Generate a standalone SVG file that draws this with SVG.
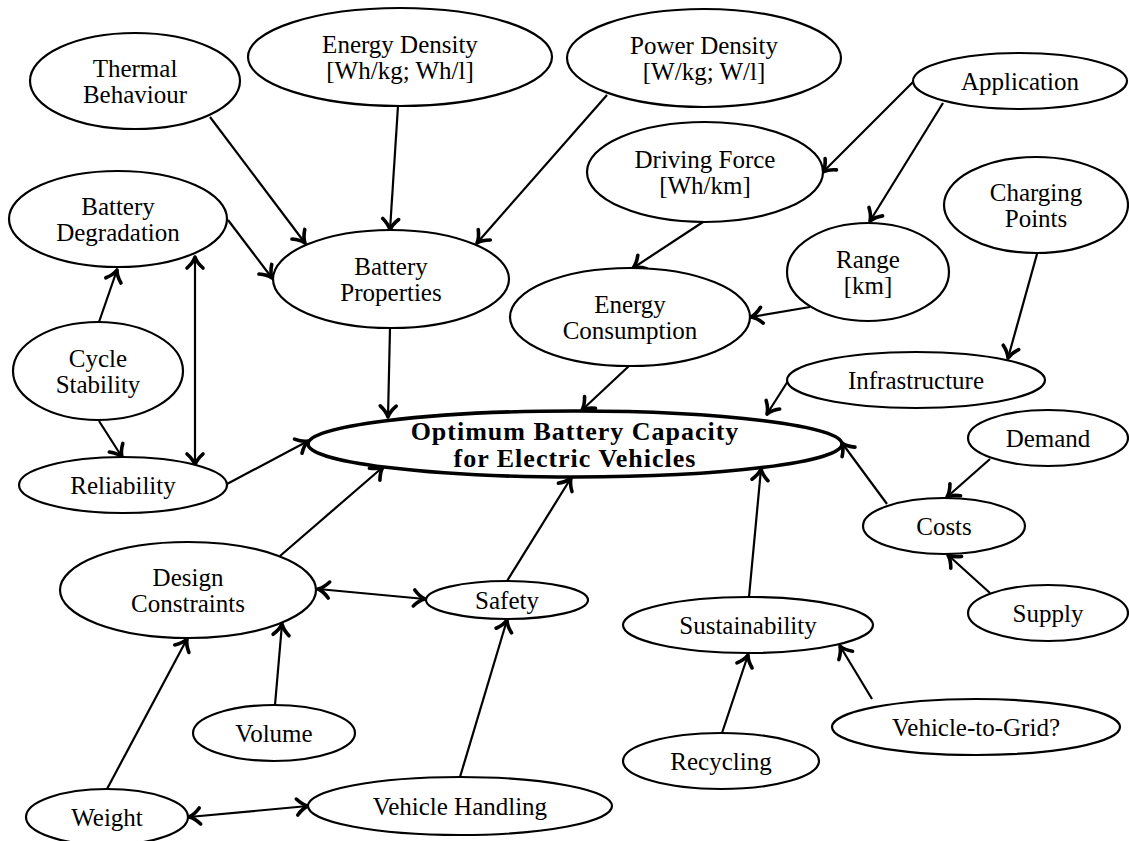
<svg xmlns="http://www.w3.org/2000/svg" width="1129" height="841" viewBox="0 0 1129 841">
<style>
  .node ellipse { fill: #fff; stroke: #000; stroke-width: 2.2; }
  .node text { font-family: "Liberation Serif", "Times New Roman", serif; font-size: 25px; fill: #000; text-anchor: middle; }
  #n-main ellipse { stroke-width: 3.6; }
  #n-main text { font-weight: bold; font-size: 26px; letter-spacing: 1px; }
  #connectors line { stroke: #000; stroke-width: 2.2; fill: none; marker-end: url(#ah); }
  #connectors line.both { marker-start: url(#ah); }
</style>
<defs>
  <marker id="ah" viewBox="-15 -11 18 22" refX="0" refY="0" markerWidth="18" markerHeight="22" markerUnits="userSpaceOnUse" orient="auto-start-reverse" overflow="visible">
    <path d="M-11,-8 C-7.5,-4 -3,-1 0,0 C-3,1 -7.5,4 -11,8" fill="none" stroke="#000" stroke-width="3.6" stroke-linecap="round" stroke-linejoin="round"/>
  </marker>
</defs>
<rect width="1129" height="841" fill="#fff"/>

<g id="connectors">
  <line x1="210" y1="117" x2="305" y2="243"/>
  <line x1="398" y1="106" x2="390" y2="230"/>
  <line x1="607" y1="95" x2="477" y2="243"/>
  <line x1="228" y1="220" x2="272" y2="278"/>
  <line x1="99" y1="322" x2="117" y2="270"/>
  <line class="both" x1="195" y1="257" x2="195" y2="465"/>
  <line x1="99" y1="421" x2="122" y2="457"/>
  <line x1="227" y1="484" x2="308" y2="441"/>
  <line x1="390" y1="328" x2="388" y2="417"/>
  <line x1="703" y1="222" x2="633" y2="268"/>
  <line x1="913" y1="82" x2="823" y2="172"/>
  <line x1="943" y1="103" x2="870" y2="221"/>
  <line x1="810" y1="307" x2="751" y2="317"/>
  <line x1="1037" y1="254" x2="1008" y2="358"/>
  <line x1="629" y1="366" x2="582" y2="410"/>
  <line x1="788" y1="381" x2="767" y2="414"/>
  <line x1="990" y1="459" x2="947" y2="497"/>
  <line x1="990" y1="593" x2="948" y2="555"/>
  <line x1="887" y1="504" x2="842" y2="443"/>
  <line x1="749" y1="597" x2="761" y2="469"/>
  <line x1="722" y1="733" x2="748" y2="655"/>
  <line x1="872" y1="699" x2="840" y2="646"/>
  <line x1="280" y1="556" x2="383" y2="467"/>
  <line class="both" x1="318" y1="589" x2="425" y2="599"/>
  <line x1="275" y1="705" x2="282" y2="624"/>
  <line x1="107" y1="789" x2="187" y2="639"/>
  <line class="both" x1="189" y1="817" x2="308" y2="806"/>
  <line x1="460" y1="777" x2="507" y2="620"/>
  <line x1="507" y1="581" x2="571" y2="478"/>
</g>

<g id="n-thermal" class="node"><ellipse cx="135" cy="81" rx="105" ry="48"/><text x="135" y="77">Thermal</text><text x="135" y="103">Behaviour</text></g>
<g id="n-energy-density" class="node"><ellipse cx="400" cy="57" rx="152" ry="49"/><text x="400" y="53">Energy Density</text><text x="400" y="79">[Wh/kg; Wh/l]</text></g>
<g id="n-power-density" class="node"><ellipse cx="704" cy="58" rx="137" ry="49"/><text x="704" y="54">Power Density</text><text x="704" y="80">[W/kg; W/l]</text></g>
<g id="n-application" class="node"><ellipse cx="1020" cy="81" rx="107" ry="28"/><text x="1020" y="90">Application</text></g>
<g id="n-driving-force" class="node"><ellipse cx="705" cy="172" rx="118" ry="50"/><text x="705" y="168">Driving Force</text><text x="705" y="194">[Wh/km]</text></g>
<g id="n-charging" class="node"><ellipse cx="1036" cy="205" rx="92" ry="48"/><text x="1036" y="201">Charging</text><text x="1036" y="227">Points</text></g>
<g id="n-degradation" class="node"><ellipse cx="118" cy="219" rx="109" ry="48"/><text x="118" y="215">Battery</text><text x="118" y="241">Degradation</text></g>
<g id="n-properties" class="node"><ellipse cx="391" cy="279" rx="118" ry="49"/><text x="391" y="275">Battery</text><text x="391" y="301">Properties</text></g>
<g id="n-range" class="node"><ellipse cx="868" cy="272" rx="81" ry="49"/><text x="868" y="268">Range</text><text x="868" y="294">[km]</text></g>
<g id="n-consumption" class="node"><ellipse cx="630" cy="317" rx="120" ry="49"/><text x="630" y="313">Energy</text><text x="630" y="339">Consumption</text></g>
<g id="n-cycle" class="node"><ellipse cx="98" cy="371" rx="85" ry="49"/><text x="98" y="367">Cycle</text><text x="98" y="393">Stability</text></g>
<g id="n-infrastructure" class="node"><ellipse cx="916" cy="380" rx="129" ry="28"/><text x="916" y="389">Infrastructure</text></g>
<g id="n-main" class="node"><ellipse cx="575" cy="444" rx="267" ry="33"/><text x="575" y="440">Optimum Battery Capacity</text><text x="575" y="467">for Electric Vehicles</text></g>
<g id="n-demand" class="node"><ellipse cx="1048" cy="438" rx="80" ry="28"/><text x="1048" y="447">Demand</text></g>
<g id="n-reliability" class="node"><ellipse cx="123" cy="485" rx="104" ry="28"/><text x="123" y="494">Reliability</text></g>
<g id="n-costs" class="node"><ellipse cx="944" cy="526" rx="81" ry="28"/><text x="944" y="535">Costs</text></g>
<g id="n-design" class="node"><ellipse cx="188" cy="590" rx="128" ry="48"/><text x="188" y="586">Design</text><text x="188" y="612">Constraints</text></g>
<g id="n-safety" class="node"><ellipse cx="507" cy="600" rx="81" ry="19"/><text x="507" y="609">Safety</text></g>
<g id="n-sustainability" class="node"><ellipse cx="748" cy="625" rx="125" ry="28"/><text x="748" y="634">Sustainability</text></g>
<g id="n-supply" class="node"><ellipse cx="1048" cy="613" rx="80" ry="28"/><text x="1048" y="622">Supply</text></g>
<g id="n-volume" class="node"><ellipse cx="274" cy="733" rx="81" ry="28"/><text x="274" y="742">Volume</text></g>
<g id="n-v2g" class="node"><ellipse cx="976" cy="727" rx="144" ry="28"/><text x="976" y="736">Vehicle-to-Grid?</text></g>
<g id="n-recycling" class="node"><ellipse cx="721" cy="761" rx="98" ry="28"/><text x="721" y="770">Recycling</text></g>
<g id="n-handling" class="node"><ellipse cx="460" cy="806" rx="152" ry="29"/><text x="460" y="815">Vehicle Handling</text></g>
<g id="n-weight" class="node"><ellipse cx="107" cy="817" rx="81" ry="28"/><text x="107" y="826">Weight</text></g>
</svg>
